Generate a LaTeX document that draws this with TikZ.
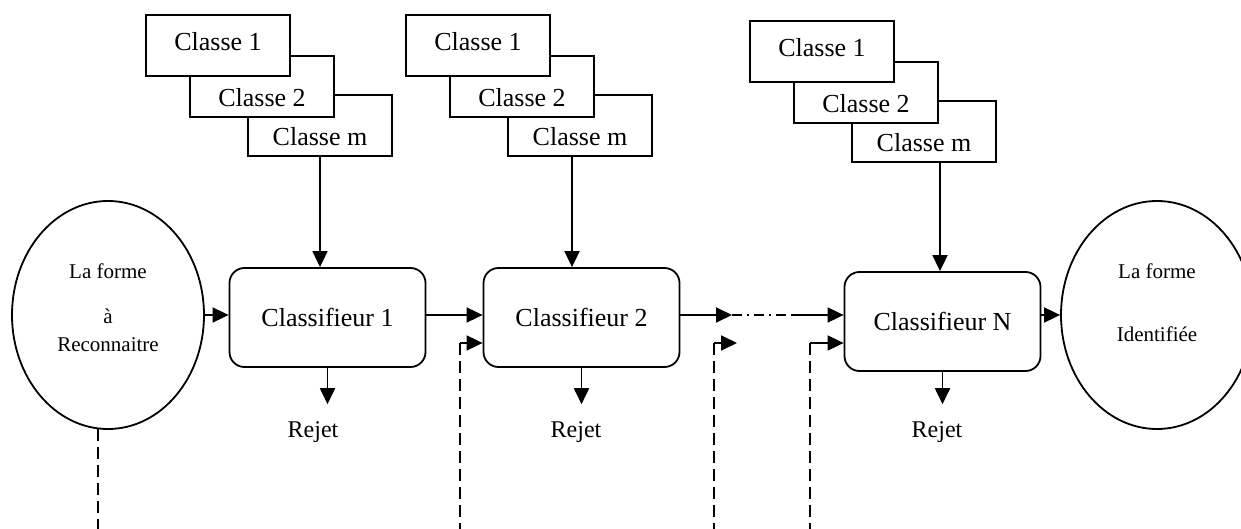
\documentclass[tikz,border=0pt]{standalone}
\usepackage{fontspec}
\setmainfont{Liberation Serif}
\usepackage{tikz}
\usetikzlibrary{positioning}
\usetikzlibrary{calc}
\usetikzlibrary{shapes.geometric}
\usetikzlibrary{arrows.meta}
\tikzstyle{classe}=[draw, fill=white, minimum width=144pt, minimum height=61pt, inner sep=0pt, text height=36pt, text depth=25pt, font=\fontsize{26}{31}\selectfont]
\tikzstyle{dessous}=[text height=51pt, text depth=10pt]
\tikzstyle{classifieur}=[draw, fill=white, rounded corners=15pt, minimum width=196pt, minimum height=99pt, inner sep=0pt, font=\fontsize{26}{31}\selectfont]
\tikzstyle{forme}=[draw, ellipse, minimum width=192pt, minimum height=228pt, inner sep=0pt]
\tikzstyle{txt}=[align=center, inner sep=0pt, anchor=north, font=\fontsize{21}{25}\selectfont]
\tikzstyle{rejet}=[inner xsep=0pt, inner ysep=16pt, anchor=base, font=\fontsize{24}{29}\selectfont]
\tikzstyle{arrow}=[->, >={Triangle[length=16pt,width=15pt]}]
\tikzstyle{retour}=[dash pattern=on 12pt off 6pt]
\tikzstyle{suite}=[dash pattern=on 10pt off 5pt on 2pt off 5pt]

\begin{document}
\begin{tikzpicture}[x=1pt, y=-1pt, line width=1.8pt]
  \useasboundingbox (0,0) rectangle (1241,529);
  \coordinate (flux) at (0,315);
  \coordinate (bas) at (0,529);

  \node [forme] (forme-a) at (108,315) {};
  \node [txt] (txt-a) at (108,263) {La forme\\[20pt]à\\[3pt]Reconnaitre};
  \node [forme] (forme-b) at (1157,315) {};
  \node [txt] (txt-b) at (1157,263) {La forme\\[38pt]Identifiée};

  \foreach \cx/\cy/\rx/\l [count=\i] in {327.5/317.5/313/1, 581.5/317.5/576/2, 942.5/321.5/937/N}{
    \node [classifieur] (clf-\i) at (\cx,\cy) {Classifieur \l};
    \node [rejet] (rejet-\i) at (\rx,437) {Rejet};
    \draw [arrow] (clf-\i.south) -- (clf-\i.south |- rejet-\i.north);
  }

  % classes
  \foreach \gx/\gy/\ax [count=\i] in {146/15/320, 406/15/572, 750/21/940}{
    \node [classe, dessous] (cm-\i) at (\gx+174,\gy+110.5) {Classe m};
    \node [classe, dessous] (c2-\i) at (\gx+116,\gy+71.5) {Classe 2};
    \node [classe] (c1-\i) at (\gx+72,\gy+30.5) {Classe 1\hspace{12pt}};
    \draw [arrow] (cm-\i.south -| \ax,0) -- (\ax,0 |- clf-\i.north);
  }

  \draw [arrow] (forme-a.east) -- (forme-a.east -| clf-1.west);
  \draw [arrow] (clf-1.east |- flux) -- (clf-2.west |- flux);
  \coordinate (s1) at (732,315);
  \coordinate (s2) at (793,315);
  \draw [arrow] (clf-2.east |- flux) -- (s1);
  \draw [suite] (s1) -- (s2);
  \draw [arrow] (s2) -- (clf-3.west |- flux);
  \draw [arrow] (clf-3.east |- flux) -- (forme-b.west);

  % retours
  \coordinate (r1) at (460,343);
  \coordinate (r2) at (714,343);
  \coordinate (r3) at (810,343);
  \coordinate (r2e) at (737,343);
  \draw [retour] (forme-a.-95) -- (forme-a.-95 |- bas);
  \draw [retour] (r1) -- (r1 |- bas);
  \draw [retour] (r2) -- (r2 |- bas);
  \draw [retour] (r3) -- (r3 |- bas);
  \draw [arrow] (r1) -- (r1 -| clf-2.west);
  \draw [arrow] (r2) -- (r2e);
  \draw [arrow] (r3) -- (r3 -| clf-3.west);
\end{tikzpicture}
\end{document}
